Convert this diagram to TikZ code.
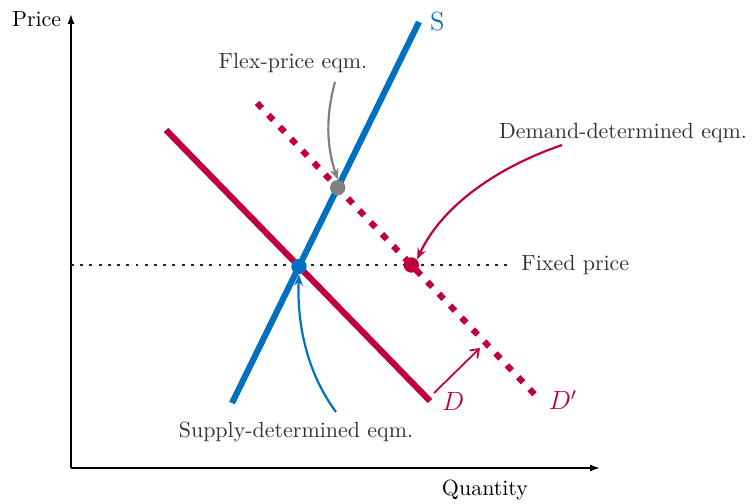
\documentclass[tikz,border=0pt]{standalone}
\usepackage{tikz}
\usetikzlibrary{arrows.meta, positioning, intersections}
\definecolor{supblue}{RGB}{0,112,192}
\definecolor{demred}{RGB}{192,0,60}
\definecolor{notegray}{RGB}{51,51,51}
\definecolor{flexgray}{RGB}{128,128,128}

\begin{document}
\begin{tikzpicture}[x=0.016cm, y=-0.016cm,
  axis/.style={line width=0.7pt, -{Latex[length=4.5pt, width=3.2pt]}},
  curve/.style={line width=2.8pt, line cap=butt},
  eqdot/.style={circle, inner sep=0pt, minimum size=7pt},
  note/.style={text=notegray},
  pointer/.style={line width=1pt, -{Stealth[length=5pt, width=4pt]}},
]
\useasboundingbox (0,0) rectangle (754,504);

% Axes
\coordinate (origin) at (71,468);
\coordinate (yTop) at (71,14);
\coordinate (xEnd) at (600,468);
\draw[axis] (origin) -- (yTop);
\draw[axis] (origin) -- (xEnd);
\node[anchor=east] (pricelab) at (69,19) {Price};
\node (qtylab) at (485,490) {Quantity};

% Curves
\coordinate (sBot) at (232,403);
\coordinate (sTop) at (419,22);
\coordinate (dTop) at (166,130);
\coordinate (dEnd) at (430,401);
\coordinate (dpTop) at (257,103);
\coordinate (dpEnd) at (540,400);
\coordinate (fixStart) at (71,265);
\coordinate (fixEnd) at (510,265);

\draw[name path=fixed, line width=1.3pt, dash pattern=on 1.3pt off 2.9pt, black!85] (fixStart) -- (fixEnd);
\draw[name path=supply, curve, supblue] (sBot) -- (sTop);
\draw[name path=demand, curve, demred] (dTop) -- (dEnd);
\draw[name path=demandnew, curve, demred, dash pattern=on 3.2pt off 4.3pt] (dpTop) -- (dpEnd);

\node[right=1.5pt of sTop, text=supblue, font=\large] (slab) {S};
\node[right=2pt of dEnd, text=demred, font=\large] (dlab) {$D$};
\node[right=0.5pt of dpEnd, text=demred, font=\large] (dplab) {$D'$};
\node[right=1.7pt of fixEnd, note] (fixlab) {Fixed price};

% Equilibria
\path[name intersections={of=supply and demand, by=eqSup}];
\path[name intersections={of=supply and demandnew, by=eqFlex}];
\path[name intersections={of=fixed and demandnew, by=eqDem}];
\node[eqdot, fill=supblue] (supdot) at (eqSup) {};
\node[eqdot, fill=flexgray] (flexdot) at (eqFlex) {};
\node[eqdot, fill=demred] (demdot) at (eqDem) {};

% Shift of demand
\coordinate (shiftA) at (434,393);
\coordinate (shiftB) at (480,348);
\draw[demred, line width=0.8pt, -{Straight Barb[length=3.5pt, width=5pt]}] (shiftA) -- (shiftB);

% Annotations
\node[note] (flexlab) at (293,63) {Flex-price eqm.};
\node[note] (demlab) at (623,133) {Demand-determined eqm.};
\node[note] (suplab) at (296,432) {Supply-determined eqm.};

\coordinate (flexFrom) at (335,82);
\coordinate (demFrom) at (562,145);
\coordinate (supFrom) at (336,412);
\draw[pointer, flexgray] (flexFrom) .. controls (326,115) and (326,145) .. (flexdot.north);
\draw[pointer, demred] (demFrom) .. controls (490,170) and (440,210) .. (demdot.north east);
\draw[pointer, supblue] (supFrom) .. controls (305,370) and (297,320) .. (supdot.south);
\end{tikzpicture}
\end{document}
